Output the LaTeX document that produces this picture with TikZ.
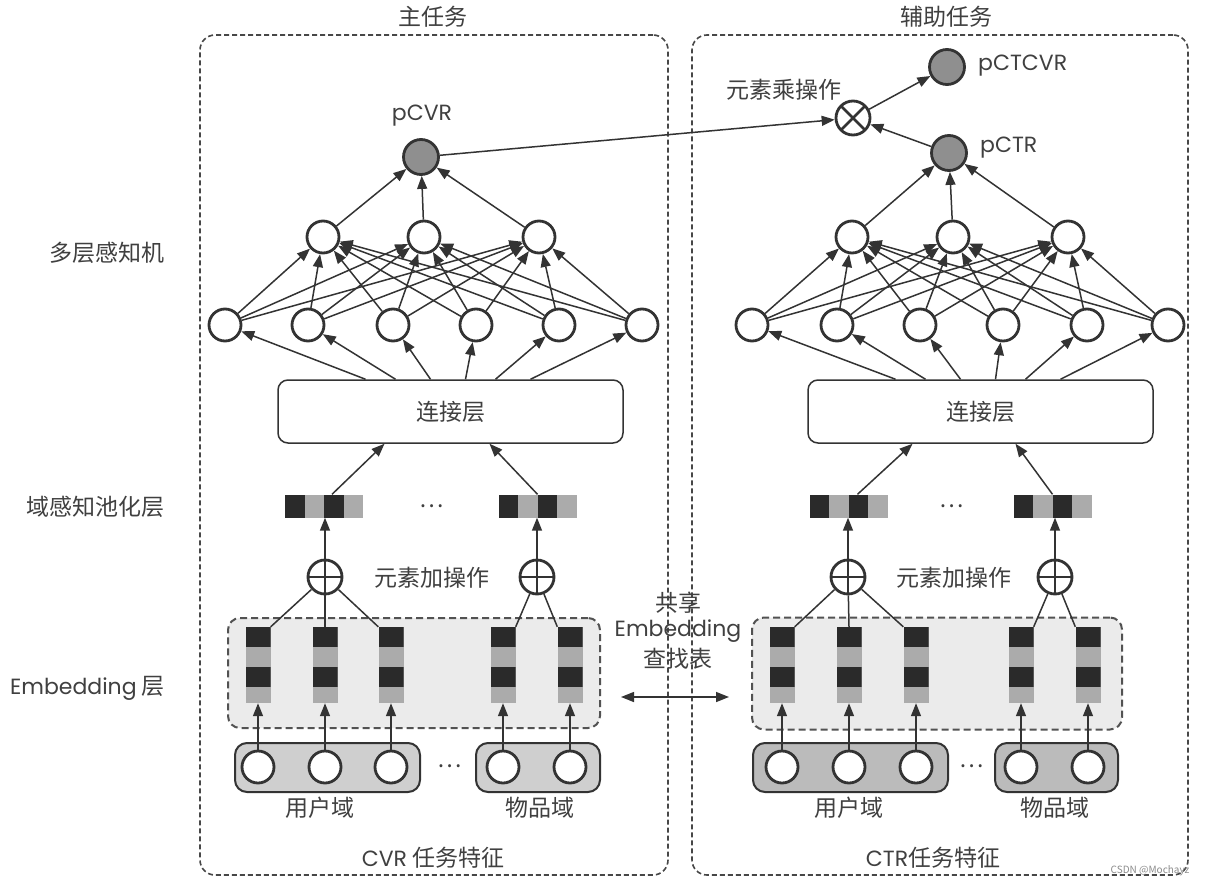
\documentclass[tikz,border=0pt]{standalone}
\usepackage{fontspec}
\setmainfont{Noto Sans CJK SC}
\newfontfamily\lat{Poppins}
\usetikzlibrary{arrows.meta,calc}
\definecolor{ln}{HTML}{333333}
\definecolor{txt}{HTML}{404040}
\definecolor{dk}{HTML}{2A2A2A}
\definecolor{lt}{HTML}{ABABAB}
\definecolor{outgray}{HTML}{8F8F8F}
\definecolor{embfill}{HTML}{EBEBEB}
\definecolor{inl}{HTML}{CFCFCF}
\definecolor{inr}{HTML}{BBBBBB}
\begin{document}
\begin{tikzpicture}[x=1pt,y=-1pt,
  lbl/.style={font=\fontsize{23}{26}\selectfont, inner sep=0, text=txt},
  latl/.style={font=\fontsize{22}{26}\selectfont\lat, inner sep=0, text=txt},
  neuron/.style={circle, draw=ln, line width=2.8pt, fill=white, minimum size=32pt, inner sep=0},
  outn/.style={neuron, fill=outgray, minimum size=35pt},
  opplus/.style={circle, draw=ln, line width=2.8pt, fill=white, minimum size=34pt, inner sep=0,
    path picture={\draw[line width=2.6pt, ln] (path picture bounding box.north) -- (path picture bounding box.south)
      (path picture bounding box.west) -- (path picture bounding box.east);}},
  optimes/.style={circle, draw=ln, line width=2.8pt, fill=white, minimum size=34pt, inner sep=0,
    path picture={\draw[line width=2.6pt, ln] (path picture bounding box.north west) -- (path picture bounding box.south east)
      (path picture bounding box.south west) -- (path picture bounding box.north east);}},
  arr/.style={-{Triangle[length=13pt,width=10pt]}, line width=1.5pt, draw=ln},
  conn/.style={line width=1.5pt, draw=ln},
  evec/.style={rectangle, minimum width=25pt, minimum height=76pt, inner sep=0, fill=lt,
    path picture={
      \fill[dk] (path picture bounding box.north west) rectangle ([yshift=-20pt]path picture bounding box.north east);
      \fill[dk] ([yshift=-40pt]path picture bounding box.north west) rectangle ([yshift=-60pt]path picture bounding box.north east);}},
  pvec/.style={rectangle, minimum width=78pt, minimum height=23pt, inner sep=0, fill=lt,
    path picture={
      \fill[dk] (path picture bounding box.north west) rectangle ([xshift=19.5pt]path picture bounding box.south west);
      \fill[dk] ([xshift=39pt]path picture bounding box.north west) rectangle ([xshift=58.5pt]path picture bounding box.south west);}},
  concat/.style={rectangle, rounded corners=10pt, draw=ln, line width=1.5pt, fill=white, minimum width=345pt, minimum height=63pt, lbl},
  embbox/.style={rectangle, rounded corners=12pt, draw=ln!85, line width=2pt, dash pattern=on 7pt off 4pt, fill=embfill, inner sep=0},
  inbox/.style={rectangle, rounded corners=12pt, draw=ln, line width=2pt, minimum height=49pt, inner sep=0},
  outer/.style={rectangle, rounded corners=15pt, draw=ln!90, line width=1.6pt, dash pattern=on 5pt off 3pt, inner sep=0, minimum height=840pt},
]
\fill[white] (0,0) rectangle (1209,891);
\useasboundingbox (0,0) rectangle (1209,891);

% outer task boxes
\node[outer, minimum width=468pt] (boxL) at (434,455) {};
\node[outer, minimum width=496pt] (boxR) at (940,455) {};
\node[lbl] (tL) at (433,17) {主任务};
\node[lbl] (tR) at (946,17) {辅助任务};

% side labels
\node[lbl, anchor=east] (sl1) at (165,253) {多层感知机};
\node[lbl, anchor=east] (sl2) at (165,507) {域感知池化层};
\node[lbl, anchor=east] (sl3) at (165,688) {{\lat\fontsize{22}{26}\selectfont Embedding} 层};

% ---------- left tower ----------
\node[embbox, minimum width=372pt, minimum height=110pt] (ebL) at (414,673) {};
\node[inbox, fill=inl, minimum width=185pt] (uL) at (327.5,767.5) {};
\node[inbox, fill=inl, minimum width=124pt] (iL) at (538,767.5) {};
\foreach \n/\x in {1/258,2/325,3/391,4/503,5/570}{
  \node[evec] (eL\n) at (\x,665) {};
  \node[neuron] (xL\n) at (\x,767) {};
  \draw[arr] (xL\n) -- (eL\n.south);
}
\node[lbl] (dL2) at (450,766) {…};
\node[lbl] (uLt) at (320,808) {用户域};
\node[lbl] (iLt) at (540,808) {物品域};
\node[lbl] (cvrt) at (433,858) {{\lat\fontsize{22}{26}\selectfont CVR} 任务特征};

\node[opplus] (pL1) at (325,577) {};
\node[opplus] (pL2) at (537,577) {};
\node[lbl] (addL) at (432,578) {元素加操作};
\draw[conn] (pL1) -- (eL1.north east);
\draw[conn] (pL1) -- (eL2.north);
\draw[conn] (pL1) -- (eL3.north west);
\draw[conn] (pL2) -- (eL4.north east);
\draw[conn] (pL2) -- (eL5.north west);

\node[pvec] (vL1) at (324,506) {};
\node[pvec] (vL2) at (537.5,506) {};
\node[lbl] (dL1) at (432,506) {…};
\draw[arr] (pL1) -- (pL1 |- vL1.south);
\draw[arr] (pL2) -- (pL2 |- vL2.south);

\node[concat] (cL) at (450.5,411.5) {连接层};
\draw[arr] ($(vL1.north)+(8,0)$) -- ($(cL.south)+(-66,0)$);
\draw[arr] (vL2.north) -- ($(cL.south)+(39,0)$);

\foreach \n/\x/\o in {1/225/-85,2/308/-55,3/393/-20,4/476/15,5/559/45,6/642/80}{
  \node[neuron] (aL\n) at (\x,325) {};
  \draw[arr] ($(cL.north)+(\o,0)$) -- (aL\n);
}
\foreach \n/\x in {1/323,2/424,3/539}{
  \node[neuron] (bL\n) at (\x,237) {};
}
\foreach \i in {1,...,6}{\foreach \j in {1,2,3}{\draw[arr] (aL\i) -- (bL\j);}}
\node[outn] (pcvr) at (421,157) {};
\node[latl] (pcvrt) at (422,116) {pCVR};
\foreach \j in {1,2,3}{\draw[arr] (bL\j) -- (pcvr);}

% ---------- right tower ----------
\node[embbox, minimum width=370pt, minimum height=112pt] (ebR) at (937,673.5) {};
\node[inbox, fill=inr, minimum width=195pt] (uR) at (850.5,767.5) {};
\node[inbox, fill=inr, minimum width=123pt] (iR) at (1056.5,767.5) {};
\foreach \n/\x in {1/782,2/849,3/916,4/1021,5/1088}{
  \node[evec] (eR\n) at (\x,665) {};
  \node[neuron] (xR\n) at (\x,767) {};
  \draw[arr] (xR\n) -- (eR\n.south);
}
\node[lbl] (dR2) at (972,766) {…};
\node[lbl] (uRt) at (849,808) {用户域};
\node[lbl] (iRt) at (1055,808) {物品域};
\node[lbl] (ctrt) at (933,858) {{\lat\fontsize{22}{26}\selectfont CTR}任务特征};

\node[opplus] (pR1) at (848,577) {};
\node[opplus] (pR2) at (1055,577) {};
\node[lbl] (addR) at (954,578) {元素加操作};
\draw[conn] (pR1) -- (eR1.north east);
\draw[conn] (pR1) -- (eR2.north);
\draw[conn] (pR1) -- (eR3.north west);
\draw[conn] (pR2) -- (eR4.north east);
\draw[conn] (pR2) -- (eR5.north west);

\node[pvec] (vR1) at (848.5,506) {};
\node[pvec] (vR2) at (1052.5,506) {};
\node[lbl] (dR1) at (952,506) {…};
\draw[arr] (pR1) -- (pR1 |- vR1.south);
\draw[arr] (pR2) -- (pR2 |- vR2.south);

\node[concat] (cR) at (980.5,411.5) {连接层};
\draw[arr] ($(vR1.north)+(9,0)$) -- ($(cR.south)+(-68,0)$);
\draw[arr] (vR2.north) -- ($(cR.south)+(35,0)$);

\foreach \n/\x/\o in {1/752/-85,2/837/-55,3/920/-20,4/1003/15,5/1087/45,6/1168/80}{
  \node[neuron] (aR\n) at (\x,325) {};
  \draw[arr] ($(cR.north)+(\o,0)$) -- (aR\n);
}
\foreach \n/\x in {1/852,2/953,3/1068}{
  \node[neuron] (bR\n) at (\x,237) {};
}
\foreach \i in {1,...,6}{\foreach \j in {1,2,3}{\draw[arr] (aR\i) -- (bR\j);}}
\node[outn] (pctr) at (949,153) {};
\node[latl, anchor=west] (pctrt) at (980,148) {pCTR};
\foreach \j in {1,2,3}{\draw[arr] (bR\j) -- (pctr);}

% product
\node[optimes] (mul) at (853,118) {};
\node[outn] (pctcvr) at (947,67) {};
\node[latl, anchor=west] (pctcvrt) at (978,66) {pCTCVR};
\node[lbl] (mult) at (784,90) {元素乘操作};
\draw[arr] (pcvr) -- (mul);
\draw[arr] (pctr) -- (mul);
\draw[arr] (mul) -- (pctcvr);

% shared embedding
\node[lbl] (sh1) at (678,603) {共享};
\node[latl] (sh2) at (678,631) {Embedding};
\node[lbl] (sh3) at (678,659) {查找表};
\coordinate (shl) at (621,697);
\coordinate (shr) at (729,697);
\draw[{Triangle[length=13pt,width=10pt]}-{Triangle[length=13pt,width=10pt]}, line width=1.5pt, draw=ln] (shl) -- (shr);

\node[font=\fontsize{10}{12}\selectfont, text=black!45, inner sep=0] (wm) at (1150,871) {CSDN @Mochayz};
\end{tikzpicture}
\end{document}
